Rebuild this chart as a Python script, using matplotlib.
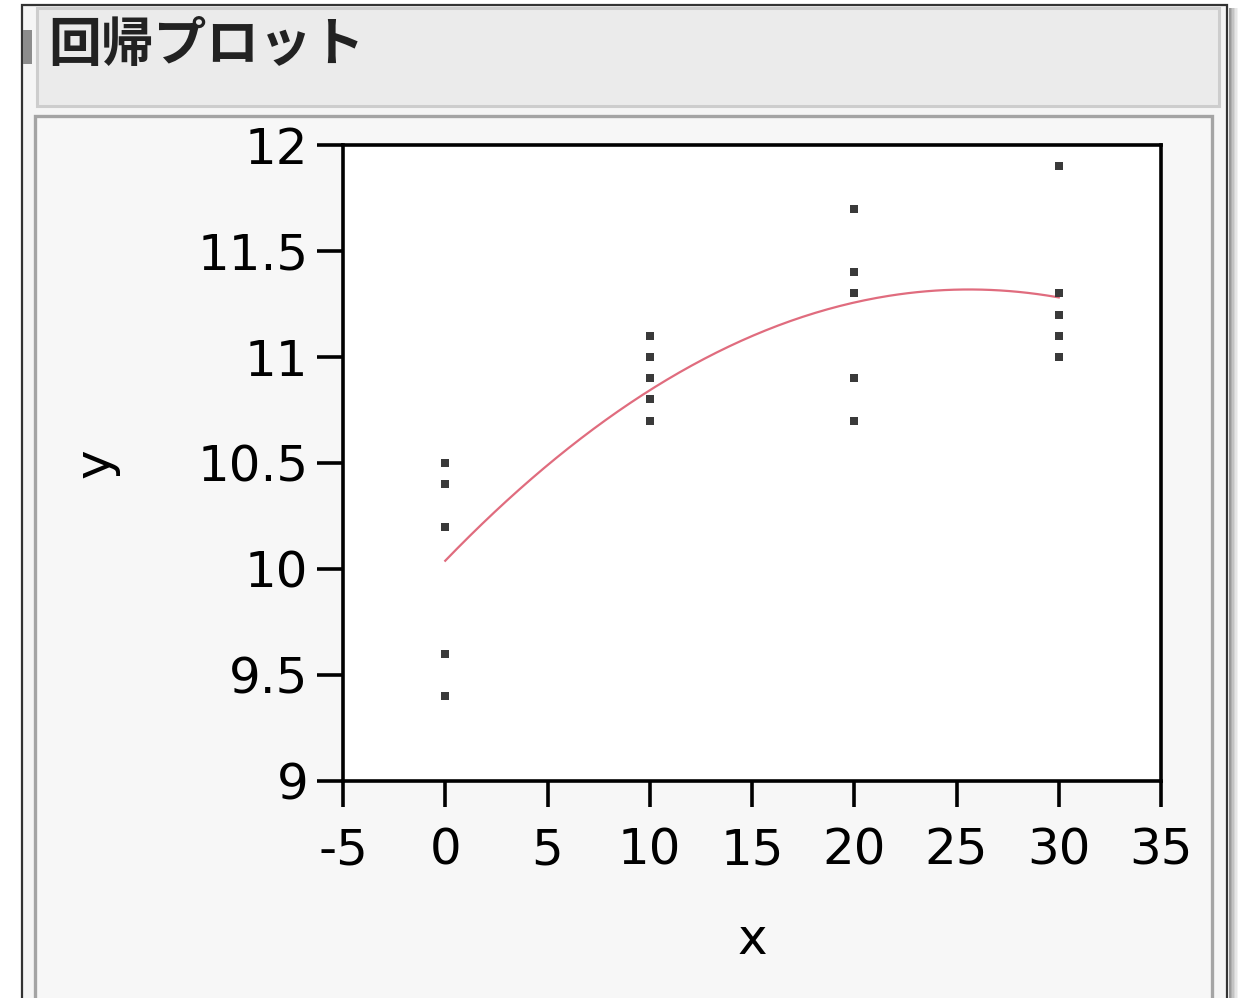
import numpy as np
import matplotlib
matplotlib.use("Agg")
import matplotlib.pyplot as plt
from matplotlib.patches import Rectangle

# ---- data ----
x_vals = [0, 0, 0, 0, 0,
          10, 10, 10, 10, 10,
          20, 20, 20, 20, 20,
          30, 30, 30, 30, 30]
y_vals = [10.5, 10.4, 10.2, 9.6, 9.4,
          11.1, 11.0, 10.9, 10.8, 10.7,
          11.7, 11.4, 11.3, 10.9, 10.7,
          11.9, 11.3, 11.2, 11.1, 11.0]
x_ticks = [-5, 0, 5, 10, 15, 20, 25, 30, 35]
y_ticks = [9, 9.5, 10, 10.5, 11, 11.5, 12]
y_tick_labels = ["9", "9.5", "10", "10.5", "11", "11.5", "12"]
title_text = "回帰プロット"
x_label = "x"
y_label = "y"

W, H = 1238, 998
fig = plt.figure(figsize=(W / 100, H / 100), dpi=100, facecolor="white")

def px_rect(x0, y0, x1, y1, **kw):
    r = Rectangle((x0 / W, 1 - y1 / H), (x1 - x0) / W, (y1 - y0) / H,
                  transform=fig.transFigure, zorder=-10, **kw)
    fig.add_artist(r)
    return r

# outer window frame
px_rect(22, 5, 1227, 1010, facecolor="#F5F5F5", edgecolor="#333333", linewidth=1.6)
# shadow at right
for i, c in enumerate(["#9A9A9A", "#B0B0B0", "#C4C4C4", "#D6D6D6", "#E6E6E6", "#F2F2F2"]):
    px_rect(1229 + i * 1.6, 8, 1230.6 + i * 1.6, 1010, facecolor=c, edgecolor="none")
# header
px_rect(37, 8, 1219, 106, facecolor="#EBEBEB", edgecolor="#CDCDCD", linewidth=2.2)
# inner panel
px_rect(35, 116, 1212, 1010, facecolor="#F7F7F7", edgecolor="#A4A4A4", linewidth=2.4)
# little disclosure icon
px_rect(23, 30, 32, 64, facecolor="#8C8C8C", edgecolor="none")

fig.text(48 / W, 1 - 45 / H, title_text, fontsize=38, fontweight="bold",
         family=["Noto Sans CJK JP", "DejaVu Sans"], va="center", ha="left",
         color="#222222")

# axes
ax = fig.add_axes([343 / W, 1 - 781 / H, 818 / W, 636 / H])
ax.set_zorder(5)
ax.set_facecolor("white")
ax.set_xlim(-5, 35)
ax.set_ylim(9, 12)
for s in ax.spines.values():
    s.set_linewidth(2.6)
    s.set_color("black")

ax.set_xticks(x_ticks)
ax.set_xticklabels([str(v) for v in x_ticks])
ax.set_yticks(y_ticks)
ax.set_yticklabels(y_tick_labels)
ax.tick_params(axis="both", direction="out", length=19, width=2.6,
               labelsize=36, colors="black")
ax.tick_params(axis="x", pad=14)
ax.tick_params(axis="y", pad=6)

# quadratic fit
coef = np.polyfit(x_vals, y_vals, 2)
xs = np.linspace(min(x_vals), max(x_vals), 200)
ax.plot(xs, np.polyval(coef, xs), color="#E06C7E", linewidth=1.6, zorder=2)

ax.scatter(x_vals, y_vals, marker="s", s=28, color="#3A3A3A", linewidths=0, zorder=3)

ax.set_xlabel(x_label, fontsize=36, labelpad=30)
ax.set_ylabel(y_label, fontsize=36, labelpad=56)

fig.savefig("out.png", dpi=100, facecolor=fig.get_facecolor())
